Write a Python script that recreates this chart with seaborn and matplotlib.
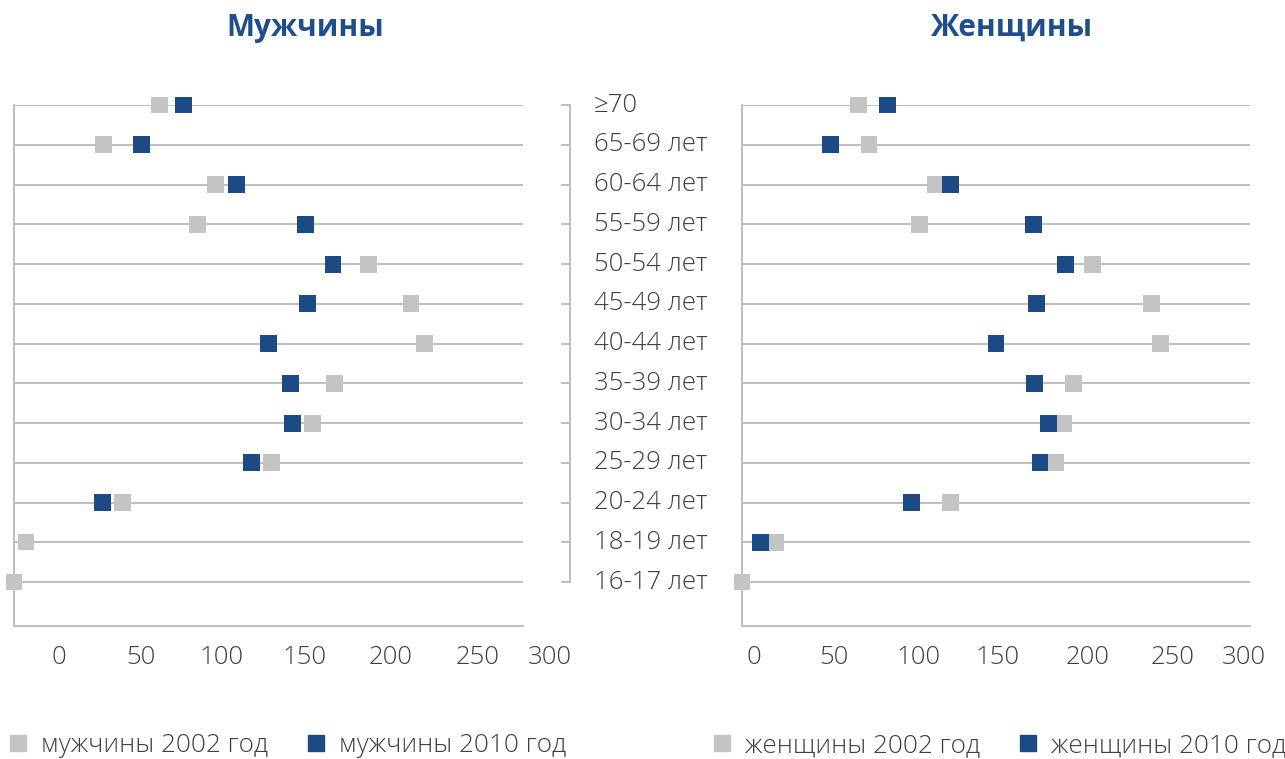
import numpy as np
import pandas as pd
import matplotlib
matplotlib.use('Agg')
import matplotlib.pyplot as plt
import matplotlib.transforms as mtransforms
from matplotlib.lines import Line2D
import seaborn as sns

# data
ages = ['≥70', '65-69 лет', '60-64 лет', '55-59 лет', '50-54 лет', '45-49 лет',
        '40-44 лет', '35-39 лет', '30-34 лет', '25-29 лет', '20-24 лет',
        '18-19 лет', '16-17 лет']
men_2002 = [86, 53, 119, 108, 209, 234, 242, 189, 176, 152, 64, 7, 0]
men_2010 = [100, 75, 131, 172, 188, 173, 150, 163, 164, 140, 52, np.nan, np.nan]
women_2002 = [69, 75, 114, 105, 207, 242, 247, 196, 190, 185, 123, 20, 0]
women_2010 = [86, 52, 123, 172, 191, 174, 150, 173, 181, 176, 100, 11, np.nan]
tick_values = ['0', '50', '100', '150', '200', '250', '300']

GRAY = '#C4C4C4'
BLUE = '#1B4A84'
TXT = '#404040'
LINE = '#B8B8B8'

sns.set_theme(style='white')
plt.rcParams['font.family'] = ['Open Sans', 'DejaVu Sans']


def long_df(v2002, v2010, who):
    return pd.DataFrame({
        'age': ages * 2,
        'value': list(v2002) + list(v2010),
        'year': [f'{who} 2002 год'] * len(ages) + [f'{who} 2010 год'] * len(ages),
    })


df_men = long_df(men_2002, men_2010, 'мужчины')
df_women = long_df(women_2002, women_2010, 'женщины')

W, H = 1285, 759
fig = plt.figure(figsize=(W / 100, H / 100), dpi=100)
axL = fig.add_axes([14 / W, 133 / H, 509 / W, 521 / H])
axR = fig.add_axes([742 / W, 133 / H, 508 / W, 521 / H])
axM = fig.add_axes([570 / W, 133 / H, 150 / W, 521 / H])

YBOT = len(ages) + 0.1

# tick label positions as they sit in the picture (slightly off the grid)
label_pos = {axL: [26.5, 75, 122, 171, 222, 273.5, 316],
             axR: [7, 54, 104, 151, 204, 254, 296.5]}

for ax, df in [(axL, df_men), (axR, df_women)]:
    sns.stripplot(data=df, x='value', y='age', hue='year', order=ages,
                  palette=[GRAY, BLUE], jitter=False, marker='s', size=12.2,
                  linewidth=0, legend=False, ax=ax, zorder=3)
    for c in ax.collections:
        c.set_clip_on(False)
    ax.set_xlim(0, 300)
    ax.set_ylim(YBOT, 0)
    ax.set_yticks(range(len(ages)))
    ax.set_xticks([])
    ax.yaxis.grid(True, color=LINE, lw=1.3)
    ax.tick_params(left=False, labelleft=False, bottom=False)
    ax.set_xlabel('')
    ax.set_ylabel('')
    for s in ['top', 'right']:
        ax.spines[s].set_visible(False)
    for s in ['left', 'bottom']:
        ax.spines[s].set_color(LINE)
        ax.spines[s].set_linewidth(1.3)
    trans = mtransforms.blended_transform_factory(ax.transData, ax.transAxes)
    for xp, lab in zip(label_pos[ax], tick_values):
        ax.text(xp, -31 / 521, lab, transform=trans, ha='center', va='center',
                fontsize=18.5, color=TXT, fontweight='light', clip_on=False)

# middle bracket with age labels
axM.set_xlim(0, 1)
axM.set_ylim(YBOT, 0)
for s in ['top', 'right', 'bottom']:
    axM.spines[s].set_visible(False)
axM.spines['left'].set_color(LINE)
axM.spines['left'].set_linewidth(1.3)
axM.spines['left'].set_bounds(0, len(ages) - 1)
axM.set_xticks([])
axM.set_yticks(range(len(ages)))
axM.tick_params(axis='y', left=True, direction='out', length=6.5, width=1.3,
                color=LINE, labelleft=False)
axM.patch.set_alpha(0)
off = mtransforms.ScaledTranslation(24 / 100, 0, fig.dpi_scale_trans)
for i, lab in enumerate(ages):
    axM.text(0, i, lab, transform=axM.transData + off, ha='left', va='center',
             fontsize=18.5, color=TXT, fontweight='light')

# titles
fig.text(305 / W, 1 - 28 / H, 'Мужчины', ha='center', va='center', fontsize=21.5,
         fontweight='bold', color='#1F4E8C')
fig.text(1012 / W, 1 - 28 / H, 'Женщины', ha='center', va='center', fontsize=21.5,
         fontweight='bold', color='#1F4E8C')

# legends
for x0, who in [(10, 'мужчины'), (714, 'женщины')]:
    handles = [Line2D([], [], marker='s', ls='', ms=11.5, color=GRAY),
               Line2D([], [], marker='s', ls='', ms=11.5, color=BLUE)]
    leg = fig.legend(handles, [f'{who} 2002 год', f'{who} 2010 год'],
                     loc='center left', bbox_to_anchor=(x0 / W, 1 - 746 / H),
                     ncol=2, frameon=False, borderaxespad=0, borderpad=0,
                     handlelength=0.62, handletextpad=0.55, columnspacing=1.55,
                     prop={'size': 18.8, 'weight': 'light'})
    for t in leg.get_texts():
        t.set_color(TXT)

fig.savefig('out.png', dpi=100)
